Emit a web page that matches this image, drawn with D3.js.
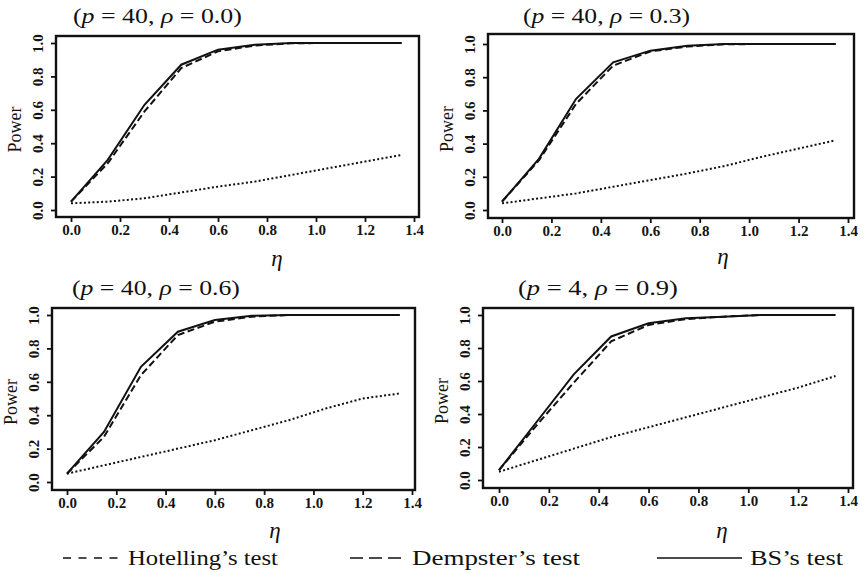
<!DOCTYPE html>
<html>
<head>
<meta charset="utf-8">
<script src="https://cdn.jsdelivr.net/npm/d3@7"></script>
<style>
  html, body { margin: 0; padding: 0; background: #fff; }
  svg { display: block; }
  .tick text { font-family: "Liberation Serif", serif; font-size: 15px; font-weight: bold; fill: #151515; }
</style>
</head>
<body>
<svg id="chart" width="867" height="573"></svg>
<script>
// Simulated power against eta for three two-sample tests
const eta = [0, 0.15, 0.3, 0.45, 0.6, 0.75, 0.9, 1.05, 1.2, 1.35];

const bs_40_00  = [0.05, 0.30, 0.63, 0.87, 0.96, 0.99, 1.0, 1.0, 1.0, 1.0];
const dem_40_00 = [0.05, 0.28, 0.59, 0.85, 0.95, 0.985, 0.998, 1.0, 1.0, 1.0];
const hot_40_00 = [0.04, 0.05, 0.07, 0.105, 0.14, 0.17, 0.21, 0.25, 0.29, 0.33];

const bs_40_03  = [0.05, 0.31, 0.67, 0.89, 0.96, 0.99, 1.0, 1.0, 1.0, 1.0];
const dem_40_03 = [0.05, 0.30, 0.64, 0.87, 0.955, 0.985, 0.998, 1.0, 1.0, 1.0];
const hot_40_03 = [0.04, 0.07, 0.10, 0.14, 0.18, 0.22, 0.265, 0.32, 0.37, 0.42];

const bs_40_06  = [0.05, 0.30, 0.69, 0.90, 0.97, 0.995, 1.0, 1.0, 1.0, 1.0];
const dem_40_06 = [0.05, 0.27, 0.64, 0.88, 0.96, 0.99, 1.0, 1.0, 1.0, 1.0];
const hot_40_06 = [0.05, 0.10, 0.15, 0.20, 0.25, 0.31, 0.37, 0.44, 0.50, 0.53];

const bs_4_09  = [0.06, 0.35, 0.64, 0.87, 0.95, 0.98, 0.99, 1.0, 1.0, 1.0];
const dem_4_09 = [0.06, 0.33, 0.59, 0.84, 0.94, 0.975, 0.99, 1.0, 1.0, 1.0];
const hot_4_09 = [0.05, 0.12, 0.19, 0.26, 0.32, 0.38, 0.44, 0.50, 0.56, 0.63];

const xTicks = [0, 0.2, 0.4, 0.6, 0.8, 1.0, 1.2, 1.4];
const yTicks = [0, 0.2, 0.4, 0.6, 0.8, 1.0];

const panelP   = ["40", "40", "40", "4"];
const panelRho = ["0.0", "0.3", "0.6", "0.9"];

const testNames = ["Hotelling\u2019s test", "Dempster\u2019s test", "BS\u2019s test"];

// Panel geometry: frame box and where 0 and 1.4 / 0 and 1 fall
const panels = [
  { box: [56, 36, 419, 217], xr: [71, 414], yr: [210, 43], tx: 73, tw: 169, ty: 23, lab: [277, 258], series: [hot_40_00, dem_40_00, bs_40_00] },
  { box: [488, 34, 854, 218], xr: [502, 848], yr: [210, 44], tx: 523, tw: 167, ty: 23, lab: [723, 256], series: [hot_40_03, dem_40_03, bs_40_03] },
  { box: [52, 308, 415, 490], xr: [67, 412], yr: [482, 315], tx: 72, tw: 168, ty: 295, lab: [275, 530], series: [hot_40_06, dem_40_06, bs_40_06] },
  { box: [483, 308, 853, 488], xr: [499, 848], yr: [480, 315], tx: 518, tw: 160, ty: 295, lab: [722, 530], series: [hot_4_09, dem_4_09, bs_4_09] }
];

const lineStyles = [
  { dash: "2,2.3", width: 2.0 },   // Hotelling: dotted
  { dash: "7,3.5", width: 2.0 },   // Dempster: dashed
  { dash: null,    width: 2.0 }    // BS: solid
];

const svg = d3.select("#chart");
const fmt = d3.format(".1f");
const serif = "'Liberation Serif', 'Times New Roman', serif";

// stretch a text run horizontally to a given width, anchored at its left edge
function fitWidth(sel, x, w) {
  const n = sel.node().getComputedTextLength();
  if (n > 0) sel.attr("transform", `translate(${x},0) scale(${w / n},1) translate(${-x},0)`);
}

panels.forEach((p, i) => {
  const [x0, y0, x1, y1] = p.box;
  const x = d3.scaleLinear().domain([0, 1.4]).range(p.xr);
  const y = d3.scaleLinear().domain([0, 1]).range(p.yr);
  const g = svg.append("g");

  // x axis
  const xa = g.append("g")
    .attr("transform", `translate(0,${y1})`)
    .call(d3.axisBottom(x).tickValues(xTicks).tickFormat(fmt).tickSize(5).tickPadding(2));
  xa.select(".domain").remove();
  xa.selectAll(".tick line").attr("stroke", "#111").attr("stroke-width", 1.8);

  // y axis, labels turned to read upward
  const ya = g.append("g")
    .attr("transform", `translate(${x0},0)`)
    .call(d3.axisLeft(y).tickValues(yTicks).tickFormat(fmt).tickSize(5));
  ya.select(".domain").remove();
  ya.selectAll(".tick line").attr("stroke", "#111").attr("stroke-width", 1.8);
  ya.selectAll(".tick text")
    .attr("x", null).attr("dy", null)
    .attr("text-anchor", "middle")
    .attr("dominant-baseline", "central")
    .attr("transform", "translate(-18,0) rotate(-90)");

  // frame
  g.append("rect")
    .attr("x", x0).attr("y", y0)
    .attr("width", x1 - x0).attr("height", y1 - y0)
    .attr("fill", "none").attr("stroke", "#111").attr("stroke-width", 2.4);

  // curves
  const line = d3.line().x((d, k) => x(eta[k])).y(d => y(d));
  p.series.forEach((vals, s) => {
    const st = lineStyles[s];
    g.append("path")
      .datum(vals)
      .attr("d", line)
      .attr("fill", "none")
      .attr("stroke", "#111")
      .attr("stroke-width", st.width)
      .attr("stroke-dasharray", st.dash);
  });

  // y label
  g.append("text")
    .attr("transform", `translate(${x0 - 41},${(y0 + y1) / 2 + 3}) rotate(-90)`)
    .attr("text-anchor", "middle")
    .attr("dominant-baseline", "central")
    .attr("font-family", serif)
    .attr("font-size", 18)
    .attr("fill", "#111")
    .text("Power");

  // x label
  g.append("text")
    .attr("x", p.lab[0]).attr("y", p.lab[1])
    .attr("text-anchor", "middle")
    .attr("dominant-baseline", "central")
    .attr("font-family", serif)
    .attr("font-style", "italic")
    .attr("font-size", 23)
    .attr("fill", "#111")
    .text("\u03b7");

  // panel title
  const t = g.append("text")
    .attr("x", p.tx).attr("y", p.ty)
    .attr("font-family", serif)
    .attr("font-size", 22)
    .attr("fill", "#111");
  t.append("tspan").text("(");
  t.append("tspan").attr("font-style", "italic").text("p");
  t.append("tspan").text(" = " + panelP[i] + ", ");
  t.append("tspan").attr("font-style", "italic").text("\u03c1");
  t.append("tspan").text(" = " + panelRho[i] + ")");
  fitWidth(t, p.tx, p.tw);
});

// legend
const legend = [
  { x0: 63, x1: 119, tx: 128, tw: 150, dash: "8,7.5" },
  { x0: 350, x1: 401, tx: 412, tw: 168, dash: "13,6" },
  { x0: 657, x1: 742, tx: 750, tw: 93, dash: null }
];
legend.forEach((l, i) => {
  svg.append("line")
    .attr("x1", l.x0).attr("x2", l.x1)
    .attr("y1", 558).attr("y2", 558)
    .attr("stroke", "#111").attr("stroke-width", 1.5)
    .attr("stroke-dasharray", l.dash);
  const t = svg.append("text")
    .attr("x", l.tx).attr("y", 565)
    .attr("font-family", serif)
    .attr("font-size", 22)
    .attr("fill", "#111")
    .text(testNames[i]);
  fitWidth(t, l.tx, l.tw);
});
</script>
</body>
</html>
